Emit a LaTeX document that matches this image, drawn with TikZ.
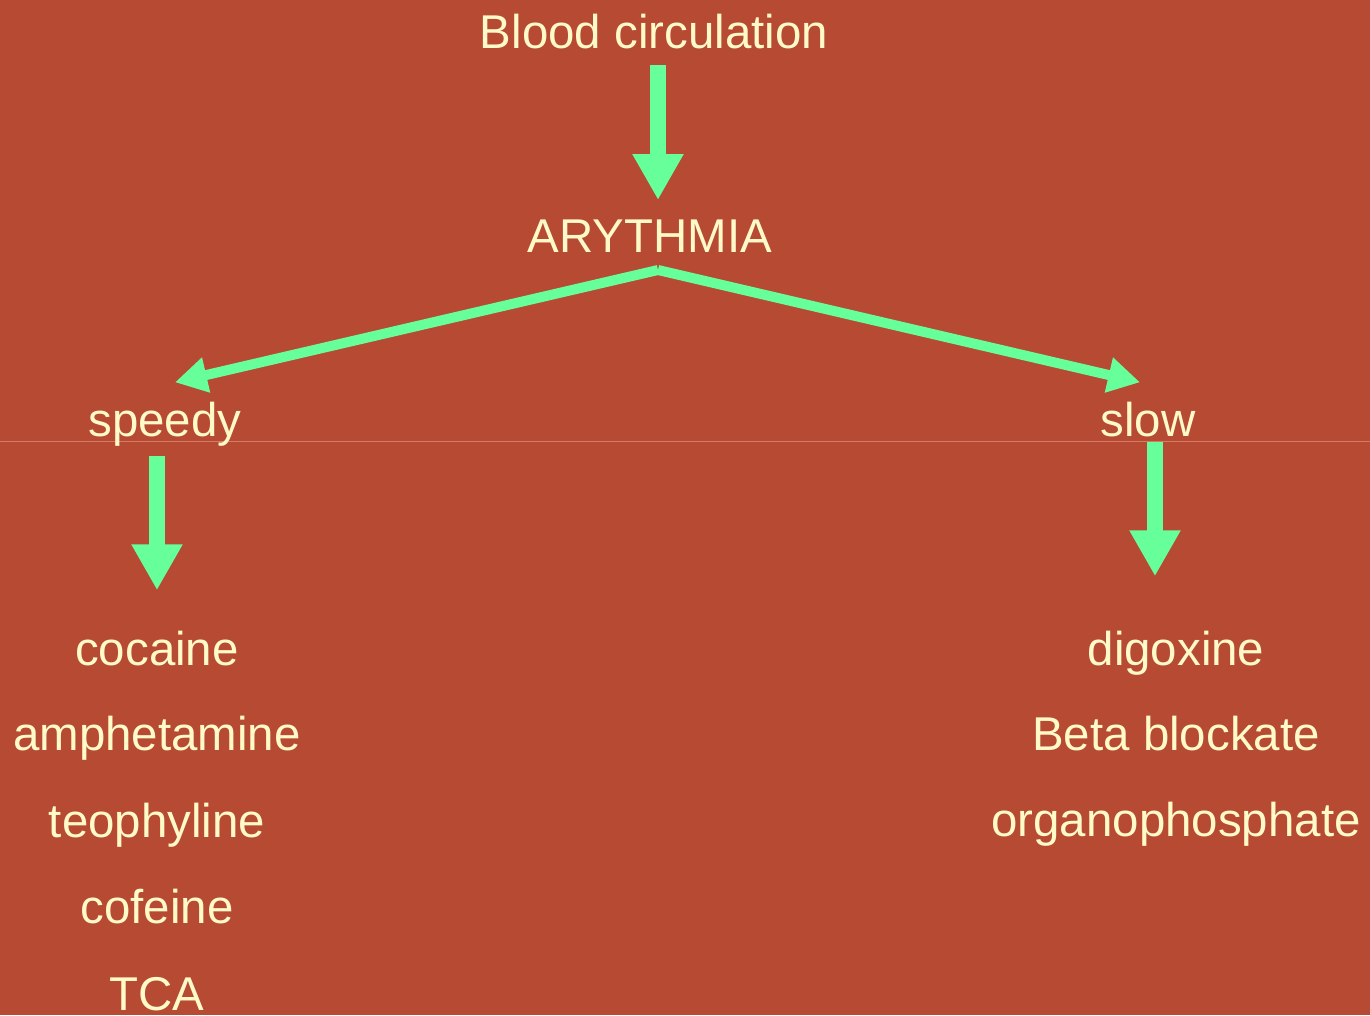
\documentclass[tikz,border=0pt]{standalone}
\usepackage{fontspec}
\setmainfont{Liberation Sans}
\usetikzlibrary{arrows.meta}
\definecolor{slidebg}{RGB}{182,74,50}
\definecolor{arrowgreen}{RGB}{102,255,153}
\definecolor{textcream}{RGB}{255,250,200}
\definecolor{seamline}{RGB}{212,122,102}

\begin{document}
\begin{tikzpicture}[x=0.02cm,y=-0.02cm,
	txt/.style={anchor=base,inner sep=0pt,text=textcream,font=\fontsize{27}{32}\selectfont},
	midtxt/.style={txt,inner ysep=0.38cm},
	bigarrow/.style={draw=arrowgreen,line width=0.32cm,-{Triangle[width=0.96cm,length=0.92cm]}},
	forkarrow/.style={draw=arrowgreen,line width=0.2cm,-{Triangle[width=0.68cm,length=0.64cm]}}]
			\fill[slidebg] (0,0) rectangle (1370,1015);
			\useasboundingbox (0,0) rectangle (1370,1015);
			\draw[seamline,line width=0.02cm] (0,441) -- (1370,441);
			% top of the tree
			\node[txt] (blood) at (654,48){Blood circulation};
			\node[txt] (ary) at (650,252){ARYTHMIA};
			\coordinate (fork) at (658,270);
			\node[midtxt] (speedy) at (165,436){speedy};
			\node[midtxt] (slow) at (1148,436){slow};
			% speedy branch
			\node[txt] (cocaine) at (157,665){cocaine};
			\node[txt] (amph) at (157,750){amphetamine};
			\node[txt] (teo) at (157,837){teophyline};
			\node[txt] (cofeine) at (157,923){cofeine};
			\node[txt] (tca) at (157,1010){TCA};
			% slow branch
			\node[txt] (digox) at (1176,665){digoxine};
			\node[txt] (beta) at (1176,750){Beta blockate};
			\node[txt] (organo) at (1176,836){organophosphate};
			% arrows
			\draw[bigarrow,shorten <=0.32cm,shorten >=0.38cm] (blood.south -| fork) -- (ary.north -| fork);
			\draw[forkarrow] (fork) -- ([xshift=0.2cm]speedy.north);
			\draw[forkarrow] (fork) -- ([xshift=-0.16cm]slow.north);
			\draw[bigarrow,shorten <=-0.18cm,shorten >=0.8cm] (cocaine.north |- speedy.south) -- (cocaine.north);
			\draw[bigarrow,shorten <=-0.28cm,shorten >=1.08cm] ([xshift=0.14cm]slow.south) -- ([xshift=0.14cm]slow.south |- digox.north);
		\end{tikzpicture}
\end{document}
